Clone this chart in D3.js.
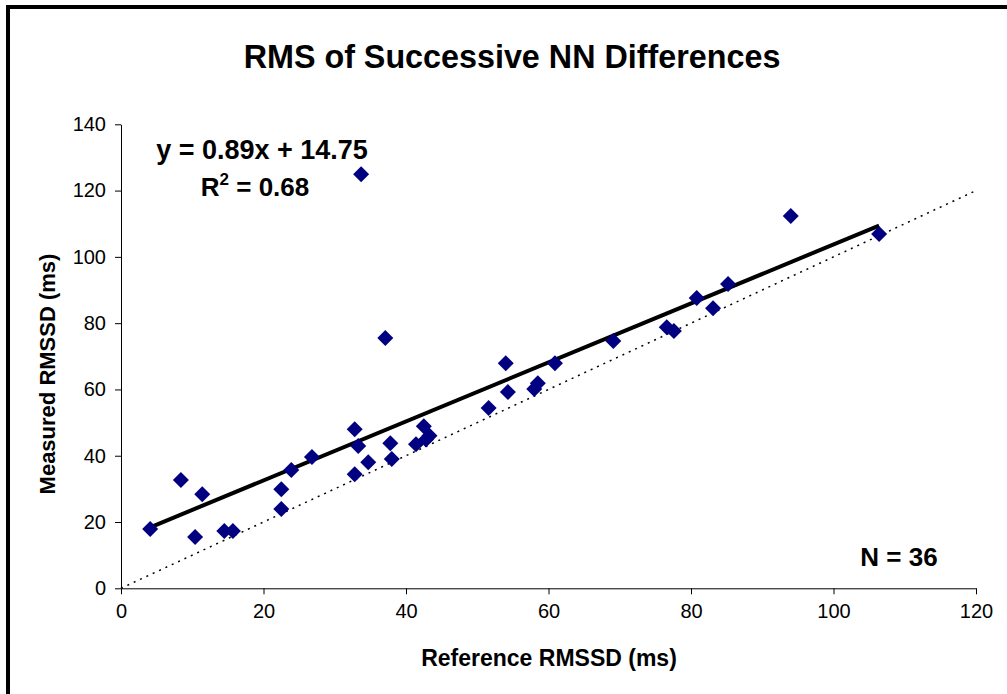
<!DOCTYPE html>
<html><head><meta charset="utf-8">
<script src="https://cdn.jsdelivr.net/npm/d3@7"></script>
<style>body{margin:0;background:#fff}svg{display:block}text{font-family:"Liberation Sans",Arial,sans-serif}</style>
</head><body>
<svg id="c" width="1007" height="694"></svg>
<script>
const refX = [4.1,8.4,11.4,10.4,14.5,15.7,22.5,22.5,23.9,26.8,32.8,33.3,32.8,34.7,33.7,37.1,37.8,38.0,41.4,42.5,42.8,43.3,51.6,54.0,54.3,58.0,58.5,60.9,69.1,76.6,77.6,80.8,83.1,85.2,94.0,106.4];
const measY = [17.9,32.7,28.4,15.5,17.3,17.3,23.9,29.9,35.7,39.6,48.0,42.9,34.4,38.0,124.9,75.5,43.8,39.0,43.5,48.9,44.9,46.0,54.4,67.9,59.2,60.1,61.9,67.9,74.6,78.8,77.6,87.6,84.5,91.8,112.3,106.9];
const xTicks = [0,20,40,60,80,100,120];
const yTicks = [0,20,40,60,80,100,120,140];
const slope = 0.89, intercept = 14.75;
const title = "RMS of Successive NN Differences";
const xLabel = "Reference RMSSD (ms)";
const yLabel = "Measured RMSSD (ms)";

const svg = d3.select("#c");
svg.append("rect").attr("x",8).attr("y",7).attr("width",1010).attr("height",700)
  .attr("fill","none").attr("stroke","#000").attr("stroke-width",4);

const x = d3.scaleLinear().domain([0,120]).range([121,976]);
const y = d3.scaleLinear().domain([0,140]).range([588.3,124.3]);

const xa = svg.append("g").attr("transform","translate(0,588.3)")
  .call(d3.axisBottom(x).tickValues(xTicks).tickSize(6).tickSizeOuter(0).tickPadding(10));
const ya = svg.append("g").attr("transform","translate(121,0)")
  .call(d3.axisLeft(y).tickValues(yTicks).tickSize(6).tickSizeOuter(0).tickPadding(9));
[xa,ya].forEach(a=>{
  a.selectAll("text").attr("font-size",20).attr("fill","#000").style("font-family","'Liberation Sans',Arial,sans-serif");
  a.selectAll("line,path").attr("stroke","#000").attr("stroke-width",1);
});

// identity line (dotted)
svg.append("line").attr("x1",x(0)).attr("y1",y(0)).attr("x2",x(120)).attr("y2",y(120))
  .attr("stroke","#000").attr("stroke-width",1.5).attr("stroke-dasharray","2,5");

// trend line
const xmin = d3.min(refX), xmax = d3.max(refX);
svg.append("line").attr("x1",x(xmin)).attr("y1",y(slope*xmin+intercept))
  .attr("x2",x(xmax)).attr("y2",y(slope*xmax+intercept))
  .attr("stroke","#000").attr("stroke-width",4);

// points
svg.append("g").selectAll("path").data(refX.map((v,i)=>[v,measY[i]])).join("path")
  .attr("transform",d=>`translate(${x(d[0])},${y(d[1])})`)
  .attr("d","M0,-8L8,0L0,8L-8,0Z").attr("fill","#000080");

svg.append("text").attr("x",512).attr("y",68).attr("text-anchor","middle")
  .attr("font-size",32.3).attr("font-weight","bold").text(title);
svg.append("text").attr("x",549).attr("y",666).attr("text-anchor","middle")
  .attr("font-size",23).attr("font-weight","bold").text(xLabel);
svg.append("text").attr("transform","translate(55,374) rotate(-90)").attr("text-anchor","middle")
  .attr("font-size",22).attr("font-weight","bold").text(yLabel);

svg.append("text").attr("x",262).attr("y",159).attr("text-anchor","middle")
  .attr("font-size",27).attr("font-weight","bold").text("y = 0.89x + 14.75");
const r = svg.append("text").attr("x",255).attr("y",196).attr("text-anchor","middle")
  .attr("font-size",26).attr("font-weight","bold");
r.append("tspan").text("R");
r.append("tspan").attr("dy",-11).attr("font-size",17).text("2");
r.append("tspan").attr("dy",11).text(" = 0.68");

svg.append("text").attr("x",899).attr("y",566).attr("text-anchor","middle")
  .attr("font-size",26).attr("font-weight","bold").text("N = 36");
</script>
</body></html>
